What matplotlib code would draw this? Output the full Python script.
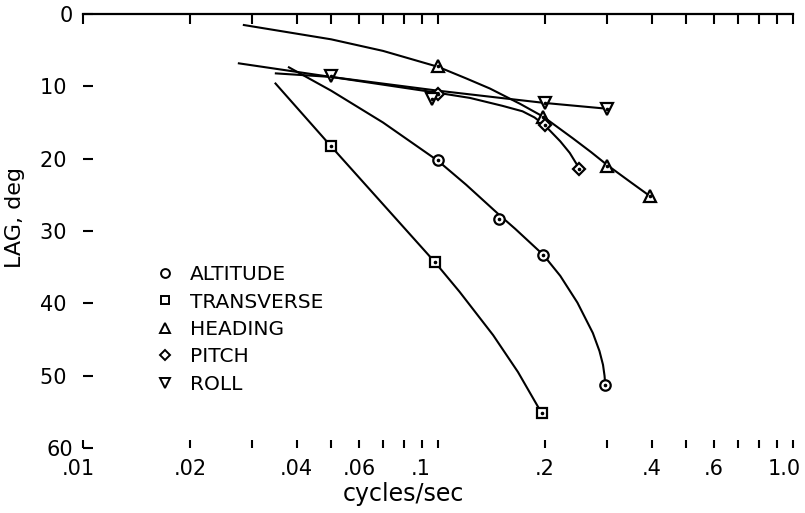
import matplotlib
matplotlib.use("Agg")
import matplotlib.pyplot as plt
from matplotlib.lines import Line2D
from matplotlib.ticker import FixedLocator, NullLocator, FixedFormatter
import matplotlib.transforms as mtransforms

plt.rcParams['font.family'] = ['DejaVu Sans']

# ---- axis ticks ----
xticks = [0.01, 0.02, 0.03, 0.04, 0.05, 0.06, 0.07, 0.08, 0.09,
          0.1, 0.2, 0.3, 0.4, 0.5, 0.6, 0.7, 0.8, 0.9, 1.0]
xtick_labels = ['.01', '.02', '', '.04', '', '.06', '', '', '',
                '.1', '.2', '', '.4', '', '.6', '', '', '', '1.0']
yticks = [0, 10, 20, 30, 40, 50, 60]
ytick_labels = ['0', '10 ', '20 ', '30 ', '40 ', '50 ', '60']

# ---- measured points (markers) ----
alt_f = [0.1, 0.149, 0.198, 0.296]
alt_lag = [20.2, 28.4, 33.3, 51.3]
trans_f = [0.05, 0.098, 0.196]
trans_lag = [18.3, 34.3, 55.2]
head_f = [0.1, 0.198, 0.3, 0.396]
head_lag = [7.2, 14.2, 21.0, 25.2]
pitch_f = [0.1, 0.2, 0.25]
pitch_lag = [11.1, 15.4, 21.4]
roll_f = [0.05, 0.096, 0.2, 0.3]
roll_lag = [8.6, 11.8, 12.3, 13.1]

# ---- faired curves ----
alt_curve_f = [0.0378, 0.05, 0.07, 0.1, 0.12, 0.149, 0.165, 0.198, 0.221,
               0.247, 0.273, 0.285, 0.2916, 0.2945, 0.296]
alt_curve_lag = [7.3, 10.6, 15.0, 20.3, 23.6, 27.8, 29.7, 33.3, 36.2,
                 39.9, 44.1, 46.6, 48.5, 50.0, 51.3]
trans_curve_f = [0.0347, 0.05, 0.07, 0.098, 0.115, 0.143, 0.168, 0.196]
trans_curve_lag = [9.5, 18.3, 26.3, 34.3, 38.4, 44.4, 49.5, 55.2]
head_curve_f = [0.0282, 0.05, 0.07, 0.1, 0.12, 0.14, 0.17, 0.198, 0.24,
                0.27, 0.3, 0.35, 0.396]
head_curve_lag = [1.5, 3.5, 5.1, 7.3, 8.9, 10.3, 12.4, 14.2, 17.2,
                  19.1, 20.9, 23.3, 25.2]
pitch_curve_f = [0.0273, 0.05, 0.1, 0.123, 0.152, 0.173, 0.187, 0.2,
                 0.221, 0.235, 0.25]
pitch_curve_lag = [6.8, 8.7, 10.9, 11.6, 12.7, 13.45, 14.3, 15.4,
                   17.6, 19.2, 21.35]
roll_curve_f = [0.0347, 0.05, 0.1, 0.15, 0.2, 0.3]
roll_curve_lag = [8.2, 8.7, 10.6, 11.6, 12.3, 13.1]

series = [
    ('ALTITUDE', 'o', 7.5, alt_f, alt_lag, alt_curve_f, alt_curve_lag),
    ('TRANSVERSE', 's', 7.0, trans_f, trans_lag, trans_curve_f, trans_curve_lag),
    ('HEADING', '^', 8.0, head_f, head_lag, head_curve_f, head_curve_lag),
    ('PITCH', 'D', 6.5, pitch_f, pitch_lag, pitch_curve_f, pitch_curve_lag),
    ('ROLL', 'v', 8.0, roll_f, roll_lag, roll_curve_f, roll_curve_lag),
]

fig = plt.figure(figsize=(8.05, 5.13), dpi=100)
ax = fig.add_axes([0.1031, 0.1267, 0.8820, 0.8460])
ax.set_xscale('log')
ax.set_xlim(0.01, 1.0)
ax.set_ylim(60, 0)

lw = 1.5
for name, mk, ms, f, lag, cf, clag in series:
    ax.plot(cf, clag, color='black', lw=lw, solid_capstyle='butt',
            solid_joinstyle='round', zorder=2)
    ax.plot(f, lag, linestyle='none', marker=mk, ms=ms, mfc='white',
            mec='black', mew=1.6, zorder=3)
    ax.plot(f, lag, linestyle='none', marker='o', ms=1.6, mfc='black',
            mec='black', zorder=4)

for s in ax.spines.values():
    s.set_visible(False)

ax.xaxis.set_major_locator(FixedLocator(xticks))
ax.xaxis.set_major_formatter(FixedFormatter(xtick_labels))
ax.xaxis.set_minor_locator(NullLocator())
ax.set_yticks(yticks)
ax.set_yticklabels(ytick_labels)
ax.tick_params(axis='x', which='both', direction='in', length=5.5, width=1.5,
               labelsize=15, pad=8, bottom=True, top=False)
ax.tick_params(axis='y', direction='in', length=7, width=1.5, labelsize=15,
               pad=7, left=True, right=False)

# shift some labels as lettered in the original
offsets = {'.1': -17, '1.0': -9, '.01': -5}
for lab in ax.get_xticklabels():
    t = lab.get_text()
    if t in offsets:
        lab.set_transform(lab.get_transform() +
                          mtransforms.ScaledTranslation(offsets[t] / 100, 0, fig.dpi_scale_trans))

# top axis with downward ticks
sec = ax.secondary_xaxis('top')
sec.xaxis.set_major_locator(FixedLocator(xticks))
sec.xaxis.set_minor_locator(NullLocator())
sec.set_xticklabels([])
sec.tick_params(axis='x', which='both', direction='in', length=7.5, width=1.5)
sec.spines['top'].set_linewidth(1.6)

ax.set_xlabel('cycles/sec', fontsize=17)
ax.xaxis.set_label_coords(0.451, -0.078)
ax.set_ylabel('LAG, deg', fontsize=16)
ax.yaxis.set_label_coords(-0.082, 0.53)

handles = [Line2D([], [], linestyle='none', marker=mk, ms=ms * 0.85, mfc='white',
                  mec='black', mew=1.4) for name, mk, ms, *_ in series]
labels = [s[0] for s in series]
ax.legend(handles, labels, loc='upper left', bbox_to_anchor=(0.102, 0.4215),
          frameon=False, fontsize=14.5, handlelength=1.0, handletextpad=0.72,
          labelspacing=0.42, borderpad=0, borderaxespad=0)

fig.savefig('out.png', dpi=100)
